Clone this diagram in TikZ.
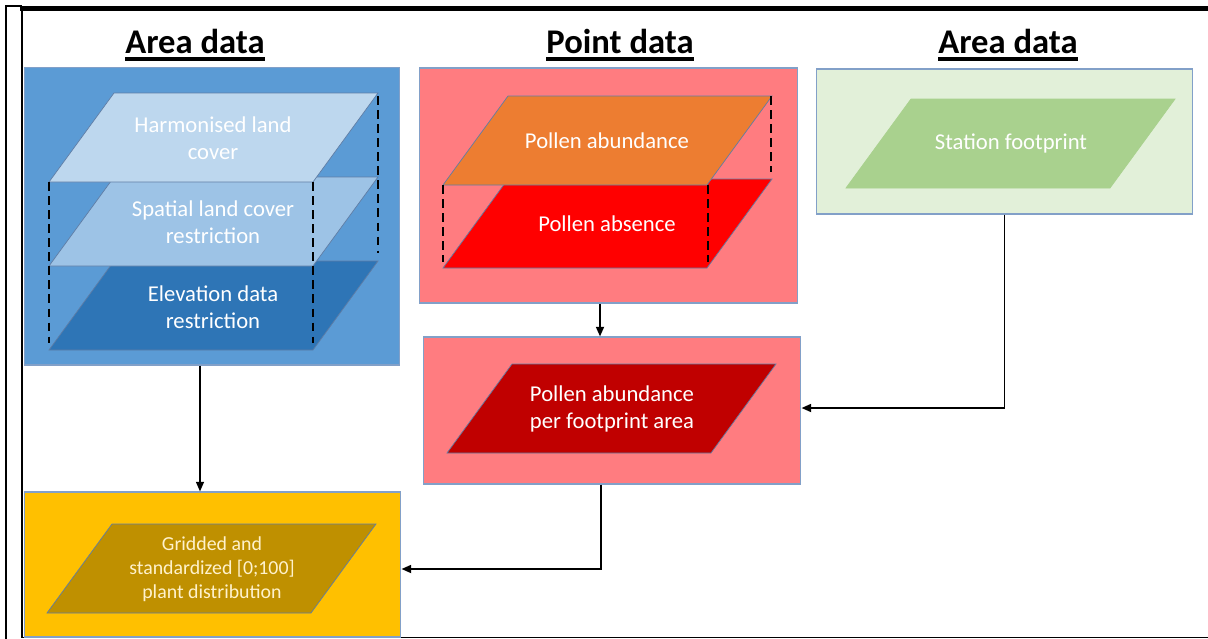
\documentclass[tikz,border=0pt]{standalone}
\usepackage{fontspec}
\setmainfont{Carlito}
\usetikzlibrary{arrows.meta, positioning, calc}
\definecolor{areabg}{RGB}{91,155,213}
\definecolor{harmfill}{RGB}{189,215,238}
\definecolor{spatfill}{RGB}{157,195,230}
\definecolor{elevfill}{RGB}{46,117,182}
\definecolor{pointbg}{RGB}{255,124,128}
\definecolor{abundfill}{RGB}{237,125,49}
\definecolor{absenfill}{RGB}{255,0,0}
\definecolor{footfill}{RGB}{192,0,0}
\definecolor{stationbg}{RGB}{226,240,217}
\definecolor{stationfill}{RGB}{169,209,142}
\definecolor{gridbg}{RGB}{255,192,0}
\definecolor{gridfill}{RGB}{191,144,0}
\definecolor{gridtext}{RGB}{255,242,204}
\definecolor{panelline}{RGB}{130,160,200}
\definecolor{slabline}{RGB}{95,125,165}

% underlined heading text
\newcommand{\ulhead}[1]{\setbox0=\hbox{#1}\rlap{\rule[-4.2pt]{\wd0}{2.1pt}}\box0}
% parallelogram layer, bottom-left corner given
\newcommand{\drawslab}[3]{\filldraw[slab, fill=#1] (#2,#3) -- ++(264,0) -- ++(65,-89) -- ++(-264,0) -- cycle;}

\begin{document}
\begin{tikzpicture}[
    x=0.02cm, y=-0.02cm,
    panel/.style={rectangle, draw=panelline, line width=0.6pt, inner sep=0pt},
    slab/.style={draw=slabline, line width=0.4pt},
    lbl/.style={font=\fontsize{12.9}{15.5}\selectfont, text=white, align=center},
    title/.style={font=\fontsize{19.7}{22}\selectfont\bfseries, anchor=base},
    guide/.style={line width=1.5pt, dash pattern=on 5pt off 3pt},
    flow/.style={-{Triangle[length=5.5pt, width=4.5pt]}, line width=1.1pt},
]
\useasboundingbox (0,0) rectangle (1208,639);

% ===== Frame =====
\draw[line width=1.1pt] (6,639) -- (6,6) -- (22,6);
\draw[line width=2.3pt] (20,8.5) -- (1208,8.5);
\draw[line width=1.7pt] (22,7) -- (22,638);
\draw[line width=0.9pt] (22,637.5) -- (1208,637.5);

% ===== Titles =====
\node[title] (titleL) at (195,53.5) {\ulhead{Area data}};
\node[title] (titleP) at (620,53.5) {\ulhead{Point data}};
\node[title] (titleR) at (1008,53.5) {\ulhead{Area data}};

% ===== Panels =====
\node[panel, fill=areabg, minimum width=7.52cm, minimum height=5.96cm] (areapanel) at (212,216) {};
\node[panel, fill=pointbg, minimum width=7.58cm, minimum height=4.70cm] (pointpanel) at (608.5,185.5) {};
\node[panel, fill=stationbg, minimum width=7.54cm, minimum height=2.90cm] (stationpanel) at (1004.5,141.5) {};
\node[panel, fill=pointbg, minimum width=7.56cm, minimum height=2.94cm] (footpanel) at (612,410.5) {};
\node[panel, fill=gridbg, minimum width=7.54cm, minimum height=2.90cm] (gridpanel) at (212.5,564.5) {};

% ===== Area data stack =====
\drawslab{elevfill}{49}{350}
\drawslab{spatfill}{49}{266}
\drawslab{harmfill}{49}{182}
\draw[guide] (49,182) -- (49,343);
\draw[guide] (313,182) -- (313,343);
\draw[guide] (378,96) -- (378,253);
\node[lbl] (harm) at (213,138) {Harmonised land\\cover};
\node[lbl] (spat) at (213,222) {Spatial land cover\\restriction};
\node[lbl] (elev) at (213,307) {Elevation data\\restriction};

% ===== Point data stack =====
\drawslab{absenfill}{443}{268}
\drawslab{abundfill}{443}{185}
\draw[guide] (443,185) -- (443,262);
\draw[guide] (708,185) -- (708,262);
\draw[guide] (771,96) -- (771,172);
\node[lbl] (abund) at (607,141) {Pollen abundance};
\node[lbl] (absen) at (607,224) {Pollen absence};

% ===== Station footprint =====
\drawslab{stationfill, draw=stationfill}{846}{188}
\node[lbl] (station) at (1011,143) {Station footprint};

% ===== Combined outputs =====
\drawslab{footfill}{447}{453}
\node[lbl] (perfoot) at (612,409) {Pollen abundance\\per footprint area};
\drawslab{gridfill}{47}{613}
\node[lbl, font=\fontsize{11.3}{13.6}\selectfont, text=gridtext] (gridded) at (212,569)
  {Gridded and\\standardized [0;100]\\plant distribution};

% ===== Connectors =====
\draw[flow, line width=0.9pt] ([xshift=-0.24cm]areapanel.south) -- ([xshift=-0.24cm]areapanel.south |- gridpanel.north);
\draw[flow] ([xshift=-0.17cm]pointpanel.south) -- ([xshift=-0.17cm]pointpanel.south |- footpanel.north);
\draw[flow] (stationpanel.south) |- ([yshift=0.05cm]footpanel.east);
\draw[flow] ([xshift=-0.22cm]footpanel.south) |- ([yshift=-0.09cm]gridpanel.east);

\end{tikzpicture}
\end{document}
